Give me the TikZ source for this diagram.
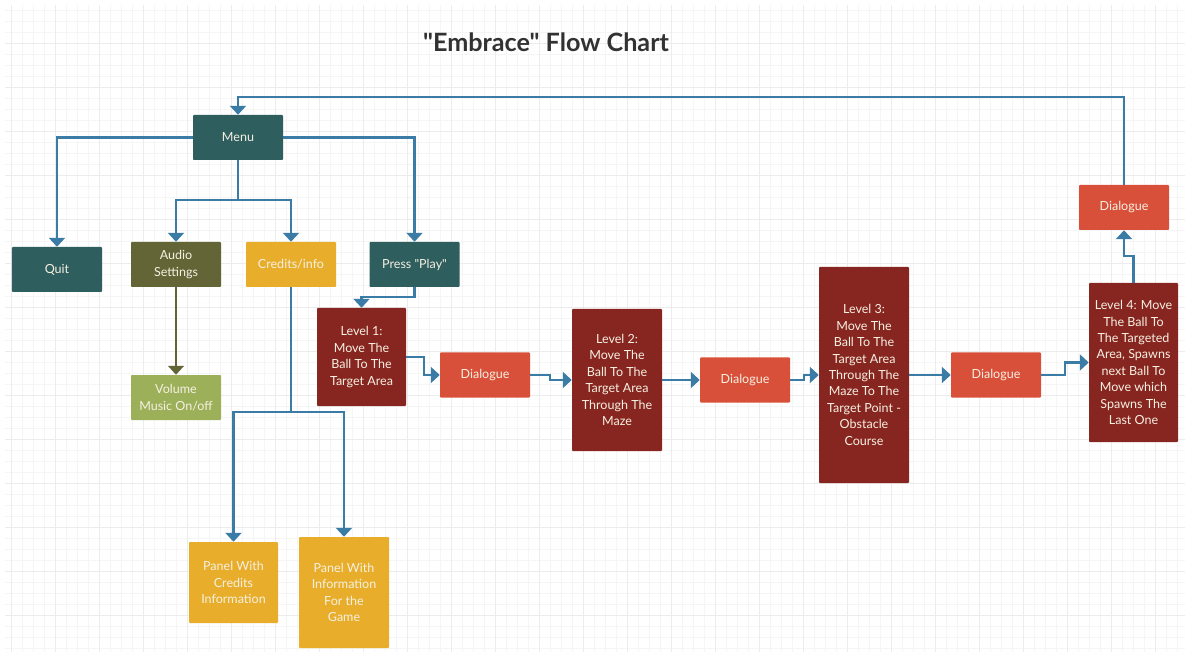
\documentclass[tikz,border=0pt]{standalone}
\usepackage{fontspec}
\setmainfont{Lato}[Ligatures=TeXOff]
\usetikzlibrary{arrows.meta}
\usepackage{xcolor}

\definecolor{tealbox}{RGB}{47,94,94}
\definecolor{olivebox}{RGB}{99,101,55}
\definecolor{goldbox}{RGB}{232,174,43}
\definecolor{leafbox}{RGB}{156,176,90}
\definecolor{levelred}{RGB}{135,38,32}
\definecolor{dialred}{RGB}{217,80,58}
\definecolor{linkblue}{RGB}{58,124,165}
\definecolor{boxtext}{RGB}{246,240,226}
\definecolor{titlegray}{RGB}{50,50,50}

\tikzset{
  box/.style={rounded corners=0.8pt,inner sep=0pt,align=center,text=boxtext,
    font=\fontsize{10.7}{14}\selectfont,minimum width=27mm,minimum height=13.5mm},
  link/.style={draw=linkblue,line width=2.1pt,-{Triangle[length=2.7mm,width=4.8mm]}},
  finegrid/.style={draw=gray!8,line width=0.4pt},
  majorgrid/.style={draw=gray!15,line width=0.5pt}
}

\begin{document}
\begin{tikzpicture}[x=0.3mm,y=-0.3mm]
  \fill[white] (0,0) rectangle (1188,655);
  \useasboundingbox (0,0) rectangle (1188,655);
  % background grid
  \foreach \x in {11,22,...,1180} \draw[finegrid] (\x,5) -- (\x,652);
  \foreach \y in {10,21,...,650} \draw[finegrid] (5,\y) -- (1185,\y);
  \foreach \x in {11,55,...,1180} \draw[majorgrid] (\x,5) -- (\x,652);
  \foreach \y in {43,87,...,650} \draw[majorgrid] (5,\y) -- (1185,\y);

  \node[text=titlegray,font=\fontsize{21.5}{26}\selectfont\bfseries] (title) at (546,42) {"Embrace" Flow Chart};

  % menu level
  \node[box,fill=tealbox] (menu) at (238,137.5) {Menu};
  \node[box,fill=tealbox] (quit) at (57,269.5) {Quit};
  \node[box,fill=olivebox] (audio) at (176,264.5) {Audio\\Settings};
  \node[box,fill=goldbox] (credits) at (291,264.5) {Credits/info};
  \node[box,fill=tealbox] (play) at (414.5,264.5) {Press "Play"};
  \node[box,fill=leafbox] (volume) at (176,397.5) {Volume\\Music On/off};
  \node[box,fill=goldbox,minimum width=26.7mm,minimum height=24.3mm] (panelcred) at (233.5,582.5) {Panel With\\Credits\\Information};
  \node[box,fill=goldbox,minimum height=33.3mm] (panelgame) at (344,592.5) {Panel With\\Information\\For the\\Game};

  % levels and dialogues
  \node[box,fill=levelred,minimum width=26.7mm,minimum height=29.4mm] (lvla) at (361.5,357) {Level 1:\\Move The\\Ball To The\\Target Area};
  \node[box,fill=dialred] (dlga) at (485,375) {Dialogue};
  \node[box,fill=levelred,minimum height=42.6mm] (lvlb) at (617,380) {Level 2:\\Move The\\Ball To The\\Target Area\\Through The\\Maze};
  \node[box,fill=dialred] (dlgb) at (745,380) {Dialogue};
  \node[box,fill=levelred,minimum height=64.8mm] (lvlc) at (864,375) {Level 3:\\Move The\\Ball To The\\Target Area\\Through The\\Maze To The\\Target Point -\\Obstacle\\Course};
  \node[box,fill=dialred] (dlgc) at (996,375) {Dialogue};
  \node[box,fill=levelred,minimum width=26.7mm,minimum height=47.7mm] (lvld) at (1133.5,362.5) {Level 4: Move\\The Ball To\\The Targeted\\Area, Spawns\\next Ball To\\Move which\\Spawns The\\Last One};
  \node[box,fill=dialred] (dlgd) at (1124,207.5) {Dialogue};

  % connectors
  \draw[link] (menu.west) -| (quit.north);
  \draw[link] (menu.east) -| (play.north);
  \draw[link] (menu.south) -- ++(0,40) -| (audio.north);
  \draw[link] (menu.south) -- ++(0,40) -| (credits.north);
  \draw[link,draw=olivebox,line width=1.4pt] (audio) -- (volume);
  \draw[link] (credits.south) -- ++(0,125) -| (panelcred.north);
  \draw[link] (credits.south) -- ++(0,125) -| (panelgame.north);
  \draw[link] (play.south) -- ++(0,10) -| (lvla.north);
  \draw[link] (lvla.east) -- ++(18,0) |- (dlga.west);
  \draw[link] (dlga.east) -- ++(20,0) |- (lvlb.west);
  \draw[link] (lvlb.east) -- (dlgb.west);
  \draw[link] (dlgb.east) -- ++(14,0) |- (lvlc.west);
  \draw[link] (lvlc.east) -- (dlgc.west);
  \draw[link] (dlgc.east) -- ++(24,0) |- (lvld.west);
  \draw[link] (lvld.north) -- ++(0,-27) -| (dlgd.south);
  \draw[link] (dlgd.north) -- ++(0,-88) -| (menu.north);
\end{tikzpicture}
\end{document}
